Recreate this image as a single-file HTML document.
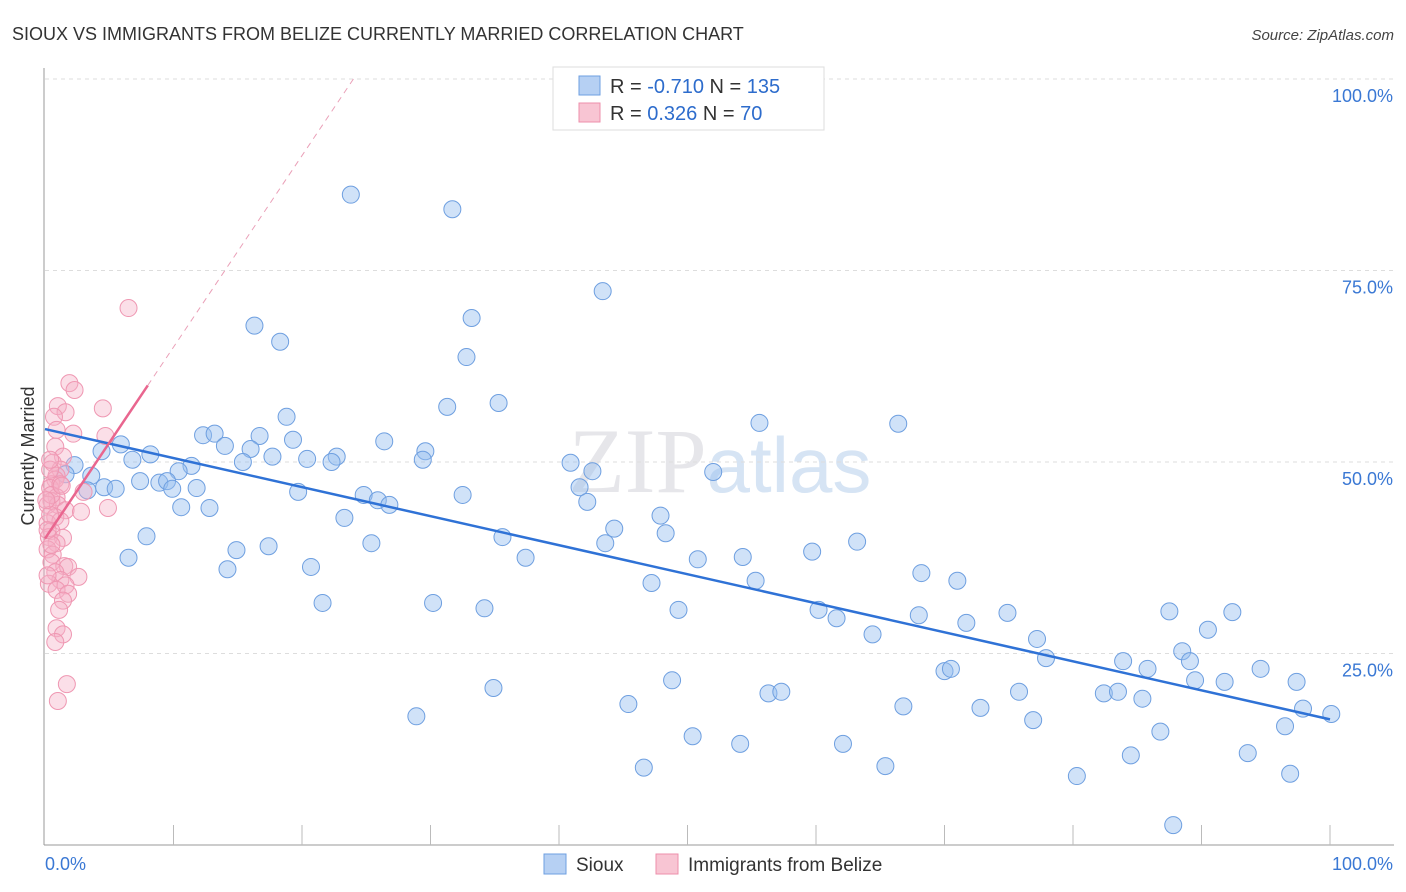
<!DOCTYPE html>
<html><head><meta charset="utf-8"><style>
body{margin:0;background:#fff;font-family:"Liberation Sans",sans-serif;}
svg{display:block}
</style></head><body>
<svg id="chart" width="1406" height="892" xmlns="http://www.w3.org/2000/svg">
<text x="12" y="40" font-size="18" fill="#333">SIOUX VS IMMIGRANTS FROM BELIZE CURRENTLY MARRIED CORRELATION CHART</text>
<text x="1394" y="40" font-size="15" fill="#444" text-anchor="end" font-style="italic">Source: ZipAtlas.com</text>
<text x="720" y="492" font-size="92" fill="#e6e6ea" text-anchor="middle" font-family="Liberation Serif">ZIP<tspan fill="#d6e4f4" font-family="Liberation Sans" font-size="78">atlas</tspan></text>
<g id="grid"></g>
<g id="axes"></g>
<g id="pts"></g>
<g id="lines"></g>
<text transform="translate(34,456) rotate(-90)" font-size="18" fill="#333" text-anchor="middle">Currently Married</text>
<g>
<rect x="553" y="67" width="271" height="63" fill="#fff" stroke="#ddd"/>
<rect x="579" y="76" width="21" height="19" fill="#b6d0f3" stroke="#6e9fe0"/>
<rect x="579" y="103" width="21" height="19" fill="#f8c5d3" stroke="#ee8fab"/>
<text x="610" y="93" font-size="20" fill="#333">R = <tspan fill="#2d6ccc">-0.710</tspan>   N = <tspan fill="#2d6ccc">135</tspan></text>
<text x="610" y="120" font-size="20" fill="#333">R =  <tspan fill="#2d6ccc">0.326</tspan>   N =  <tspan fill="#2d6ccc">70</tspan></text>
</g>
<g>
<rect x="544" y="854" width="22" height="20" fill="#b6d0f3" stroke="#6e9fe0"/>
<text x="576" y="871" font-size="19" fill="#333">Sioux</text>
<rect x="656" y="854" width="22" height="20" fill="#f8c5d3" stroke="#ee8fab"/>
<text x="688" y="871" font-size="19" fill="#333">Immigrants from Belize</text>
</g>
</svg>
<script>
const yTicks=[25,50,75,100];
const xTickLabels=["0.0%","100.0%"];
const sioux=[[351,195],[452,209],[603,291],[255,326],[280,342],[472,318],[466,357],[447,407],[498,403],[286,417],[760,423],[898,424],[203,435],[214,434],[259,436],[293,440],[384,441],[426,451],[121,444],[151,454],[225,446],[251,449],[273,457],[307,459],[337,457],[331,462],[423,460],[570,463],[593,471],[713,472],[101,451],[132,460],[243,462],[191,466],[178,471],[74,465],[91,476],[66,474],[140,481],[159,483],[167,481],[172,489],[197,488],[104,487],[116,489],[88,490],[298,492],[364,495],[378,500],[390,505],[462,495],[580,487],[587,502],[181,507],[210,508],[345,518],[660,516],[614,529],[666,533],[605,543],[502,537],[146,536],[236,550],[269,546],[128,558],[371,543],[525,558],[698,559],[743,557],[812,552],[857,542],[228,569],[311,567],[755,581],[652,583],[922,573],[957,581],[322,603],[433,603],[485,608],[679,610],[819,610],[836,618],[919,615],[1007,613],[1170,611],[1232,612],[966,623],[873,634],[1208,630],[1037,639],[1046,658],[1123,661],[1182,651],[1190,661],[1148,669],[1260,669],[945,671],[951,669],[1195,680],[1224,682],[1296,682],[672,680],[493,688],[768,693],[781,692],[1019,692],[1104,693],[1118,692],[1142,699],[629,704],[903,706],[981,708],[417,716],[1033,720],[1303,709],[1331,714],[1285,726],[693,736],[740,744],[843,744],[1161,732],[1131,755],[1248,753],[644,768],[885,766],[1077,776],[1290,774],[1173,825]].map(p=>[+((p[0]-45)/12.85).toFixed(1),+((845-p[1])/7.66).toFixed(1)]);
const belize=[[129,308],[70,383],[74,390],[103,408],[58,406],[66,412],[54,417],[57,430],[73,434],[105,436],[55,447],[63,457],[53,463],[60,470],[57,476],[55,480],[52,484],[50,488],[60,484],[84,492],[56,497],[52,501],[48,505],[58,505],[66,510],[81,512],[108,508],[55,517],[48,523],[60,521],[51,531],[49,537],[63,538],[56,543],[48,549],[53,555],[51,562],[64,566],[68,567],[55,572],[78,577],[60,580],[49,584],[66,585],[57,590],[68,594],[63,601],[59,610],[56,628],[63,634],[55,642],[67,684],[58,701],[50,470],[52,495],[50,515],[52,545],[48,575],[62,486],[50,460],[46,500],[47,530]].map(p=>[+((p[0]-45)/12.85).toFixed(1),+((845-p[1])/7.66).toFixed(1)]);
const blueTrend=[[0,54.3],[100,16.4]];
const pinkTrend=[[0,40],[8,60],[24,100]];
const NS="http://www.w3.org/2000/svg";
const X=v=>45+v*12.85, Y=v=>845-v*7.66;
function mk(tag,attrs,parent){const e=document.createElementNS(NS,tag);for(const k in attrs)e.setAttribute(k,attrs[k]);document.getElementById(parent).appendChild(e);return e;}
yTicks.forEach(t=>{
 const l=mk('line',{x1:45,x2:1394,y1:Y(t),y2:Y(t),stroke:'#ddd','stroke-dasharray':'4,4'},'grid');
 
 
 const tx=mk('text',{x:1393,y:Y(t)+23,'font-size':18,fill:'#3a78d4','text-anchor':'end'},'grid');
 tx.textContent=t.toFixed(1)+'%';
 
 
});
mk('line',{x1:44,x2:44,y1:68,y2:845,stroke:'#999'},'axes');
mk('line',{x1:44,x2:1394,y1:845,y2:845,stroke:'#999'},'axes');
for(let i=1;i<=10;i++){const t=mk('line',{x1:X(i*10),x2:X(i*10),y1:825,y2:845,stroke:'#bbb'},'axes');}
xTickLabels.forEach((s,i)=>{const t=mk('text',{x:i?1393:45,y:870,'font-size':18,fill:'#3a78d4','text-anchor':i?'end':'start'},'axes');t.textContent=s;});
sioux.forEach(p=>{const c=mk('circle',{cx:X(p[0]),cy:Y(p[1]),r:8.5,fill:'rgba(150,190,240,0.45)',stroke:'#6e9fe0','stroke-width':1},'pts');});
belize.forEach(p=>{const c=mk('circle',{cx:X(p[0]),cy:Y(p[1]),r:8.5,fill:'rgba(246,175,198,0.4)',stroke:'#ef97b2','stroke-width':1},'pts');});
let b=mk('line',{x1:X(blueTrend[0][0]),y1:Y(blueTrend[0][1]),x2:X(blueTrend[1][0]),y2:Y(blueTrend[1][1]),stroke:'#2f72d6','stroke-width':2.5},'lines');

let p1=mk('line',{x1:X(pinkTrend[0][0]),y1:Y(pinkTrend[0][1]),x2:X(pinkTrend[1][0]),y2:Y(pinkTrend[1][1]),stroke:'#e9668f','stroke-width':2.5},'lines');

let p2=mk('line',{x1:X(pinkTrend[1][0]),y1:Y(pinkTrend[1][1]),x2:X(pinkTrend[2][0]),y2:Y(pinkTrend[2][1]),stroke:'#eaa0b8','stroke-width':1,'stroke-dasharray':'6,5'},'lines');

</script>
</body></html>
